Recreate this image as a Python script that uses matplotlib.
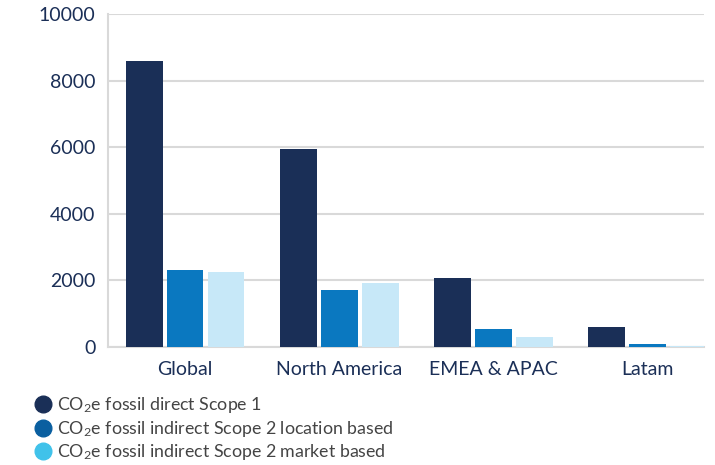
import matplotlib
matplotlib.use("Agg")
import matplotlib.pyplot as plt
import numpy as np
from matplotlib.lines import Line2D

plt.rcParams["font.family"] = ["Lato", "DejaVu Sans"]
plt.rcParams["mathtext.fontset"] = "custom"
plt.rcParams["mathtext.rm"] = "Lato"
plt.rcParams["mathtext.it"] = "Lato"

regions = ["Global", "North America", "EMEA & APAC", "Latam"]
scope1 = [8600, 5950, 2070, 600]
scope2_location = [2300, 1710, 540, 90]
scope2_market = [2250, 1920, 300, 30]

series_names = [
    "CO$_2$e fossil direct Scope 1",
    "CO$_2$e fossil indirect Scope 2 location based",
    "CO$_2$e fossil indirect Scope 2 market based",
]
bar_colors = ["#1a2f57", "#0a78c0", "#c7e8f8"]
legend_colors = ["#1a2f57", "#0a5fa0", "#40c2ea"]
navy = "#1b2f57"
grid_gray = "#d9d9d9"

fig = plt.figure(figsize=(7.15, 4.65), dpi=100)
ax = fig.add_axes([0.151, 0.254, 0.834, 0.716])

x = np.arange(len(regions))
width = 0.24
step = 0.266
for i, vals in enumerate([scope1, scope2_location, scope2_market]):
    ax.bar(x + (i - 1) * step, vals, width, color=bar_colors[i], zorder=3)

ax.set_xlim(-0.5, 3.37)
ax.set_ylim(0, 10000)
ax.set_yticks(range(0, 10001, 2000))
ax.yaxis.grid(True, color=grid_gray, linewidth=1.5, zorder=0)
ax.set_xticks(x)
ax.set_xticklabels(regions)
ax.tick_params(axis="both", length=0, labelsize=14, colors=navy)
ax.tick_params(axis="x", pad=10)
ax.tick_params(axis="y", pad=9)

for side in ["top", "right"]:
    ax.spines[side].set_visible(False)
for side in ["left", "bottom"]:
    ax.spines[side].set_color(grid_gray)
    ax.spines[side].set_linewidth(1.5)

handles = [
    Line2D([], [], marker="o", linestyle="", markersize=12,
           markerfacecolor=c, markeredgecolor=c)
    for c in legend_colors
]
fig.legend(handles, series_names, loc="upper left", bbox_to_anchor=(0.038, 0.165),
           frameon=False, fontsize=12.8, labelcolor="#444444",
           handletextpad=0.3, labelspacing=0.2, handlelength=1.0,
           borderaxespad=0)

fig.savefig("out.png", dpi=100)
